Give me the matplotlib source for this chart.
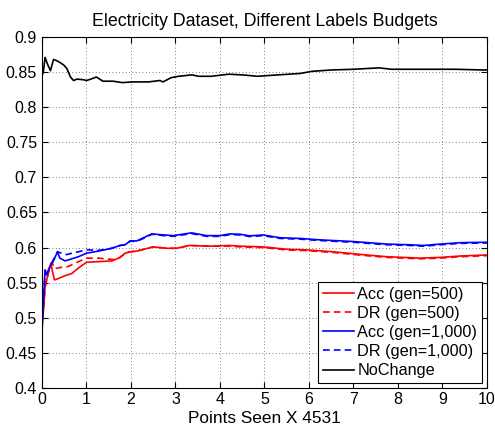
import matplotlib
matplotlib.use("Agg")
import matplotlib.pyplot as plt
import numpy as np

plt.rcParams['font.family'] = ['Liberation Sans', 'DejaVu Sans']

# NoChange
nc_x = [0.0, 0.03, 0.07, 0.12, 0.19, 0.26, 0.34, 0.42, 0.49, 0.56, 0.64, 0.71, 0.79, 0.94, 1.0, 1.1, 1.22, 1.37, 1.6, 1.81, 2.04, 2.4, 2.65, 2.72, 2.9, 3.07, 3.37, 3.52, 3.8, 4.2, 4.5, 4.85, 5.3, 5.8, 6.06, 6.5, 7.0, 7.57, 7.86, 8.3, 8.7, 9.3, 9.9, 10.0]
nc_y = [0.845, 0.850, 0.871, 0.862, 0.852, 0.868, 0.866, 0.863, 0.860, 0.855, 0.843, 0.838, 0.840, 0.839, 0.838, 0.840, 0.843, 0.837, 0.837, 0.835, 0.836, 0.836, 0.838, 0.836, 0.842, 0.844, 0.846, 0.844, 0.844, 0.847, 0.846, 0.844, 0.846, 0.848, 0.851, 0.853, 0.854, 0.856, 0.854, 0.854, 0.854, 0.854, 0.853, 0.853]

# Acc (gen=500)
acc500_x = [0.0, 0.07, 0.14, 0.2, 0.23, 0.28, 0.37, 0.52, 0.67, 0.82, 1.0, 1.27, 1.57, 1.75, 1.87, 1.98, 2.13, 2.5, 2.8, 3.02, 3.32, 3.77, 4.22, 4.45, 4.97, 5.5, 5.95, 6.55, 7.2, 7.75, 8.5, 8.95, 9.4, 10.0]
acc500_y = [0.482, 0.544, 0.563, 0.578, 0.568, 0.554, 0.556, 0.560, 0.563, 0.571, 0.579, 0.580, 0.581, 0.5857, 0.592, 0.594, 0.595, 0.601, 0.599, 0.599, 0.603, 0.602, 0.603, 0.602, 0.601, 0.5976, 0.5967, 0.594, 0.590, 0.587, 0.585, 0.586, 0.588, 0.5895]

# DR (gen=500)
dr500_x = [0.0, 0.07, 0.14, 0.2, 0.23, 0.29, 0.44, 0.59, 0.82, 1.0, 1.27, 1.6, 1.75, 1.87, 1.98, 2.13, 2.5, 2.8, 3.02, 3.32, 3.77, 4.22, 4.45, 4.97, 5.5, 5.95, 6.55, 7.2, 7.75, 8.5, 8.95, 9.4, 10.0]
dr500_y = [0.482, 0.544, 0.563, 0.576, 0.578, 0.570, 0.572, 0.573, 0.580, 0.585, 0.585, 0.583, 0.586, 0.592, 0.594, 0.595, 0.601, 0.599, 0.599, 0.603, 0.602, 0.602, 0.601, 0.600, 0.5966, 0.5957, 0.593, 0.589, 0.586, 0.584, 0.585, 0.587, 0.5885]

# Acc (gen=1,000)
acc1k_x = [0.0, 0.07, 0.1, 0.18, 0.25, 0.35, 0.4, 0.52, 0.67, 0.82, 1.0, 1.27, 1.57, 1.75, 1.87, 1.98, 2.13, 2.28, 2.47, 2.73, 2.95, 3.36, 3.7, 4.0, 4.22, 4.45, 4.67, 4.97, 5.35, 5.8, 6.25, 7.0, 7.75, 8.27, 8.57, 8.95, 9.4, 10.0]
acc1k_y = [0.485, 0.568, 0.561, 0.573, 0.580, 0.594, 0.585, 0.581, 0.584, 0.587, 0.592, 0.595, 0.599, 0.603, 0.604, 0.6095, 0.6095, 0.614, 0.6195, 0.618, 0.617, 0.621, 0.617, 0.617, 0.6195, 0.619, 0.6167, 0.618, 0.614, 0.613, 0.611, 0.6086, 0.605, 0.604, 0.603, 0.605, 0.607, 0.6076]

# DR (gen=1,000)
dr1k_x = [0.0, 0.07, 0.1, 0.18, 0.25, 0.35, 0.44, 0.55, 0.67, 0.82, 1.0, 1.27, 1.57, 1.75, 1.87, 1.98, 2.13, 2.28, 2.47, 2.73, 2.95, 3.36, 3.7, 4.0, 4.22, 4.45, 4.67, 4.97, 5.35, 5.8, 6.25, 7.0, 7.75, 8.27, 8.57, 8.95, 9.4, 10.0]
dr1k_y = [0.485, 0.568, 0.561, 0.573, 0.582, 0.594, 0.592, 0.590, 0.592, 0.594, 0.597, 0.596, 0.599, 0.603, 0.604, 0.609, 0.609, 0.613, 0.619, 0.617, 0.616, 0.620, 0.616, 0.616, 0.6185, 0.618, 0.6157, 0.617, 0.613, 0.612, 0.610, 0.6076, 0.604, 0.603, 0.602, 0.604, 0.606, 0.6066]

xticks = list(range(0, 11))
yticks = [0.4, 0.45, 0.5, 0.55, 0.6, 0.65, 0.7, 0.75, 0.8, 0.85, 0.9]
ytick_labels = ['0.4', '0.45', '0.5', '0.55', '0.6', '0.65', '0.7', '0.75', '0.8', '0.85', '0.9']

fig = plt.figure(figsize=(4.95, 4.29), dpi=100)
ax = fig.add_axes([0.0848, 0.0956, 0.8990, 0.8182])

lw = 1.2
ax.plot(acc500_x, acc500_y, color='#ff0000', lw=lw, label='Acc (gen=500)')
ax.plot(dr500_x, dr500_y, color='#ff0000', lw=lw, ls=(0, (4, 2.5)), label='DR (gen=500)')
ax.plot(acc1k_x, acc1k_y, color='#0000ff', lw=lw, label='Acc (gen=1,000)')
ax.plot(dr1k_x, dr1k_y, color='#0000ff', lw=lw, ls=(0, (4, 2.5)), label='DR (gen=1,000)')
ax.plot(nc_x, nc_y, color='black', lw=lw, label='NoChange')

ax.set_xlim(0, 10)
ax.set_ylim(0.4, 0.9)
ax.set_xticks(xticks)
ax.set_yticks(yticks)
ax.set_yticklabels(ytick_labels)
ax.tick_params(direction='in', top=True, right=True, labelsize=11.5, length=4, width=0.8)
ax.tick_params(axis='x', pad=3)
ax.grid(True, ls=(0, (1, 3)), color='#555555', lw=0.6)
for s in ax.spines.values():
    s.set_linewidth(0.8)

ax.set_title('Electricity Dataset, Different Labels Budgets', fontsize=12.8, pad=8)
ax.set_xlabel('Points Seen X 4531', fontsize=12.4, labelpad=2.5)

leg = ax.legend(loc='lower right', fontsize=11.7, frameon=True, fancybox=False,
                edgecolor='black', framealpha=1, borderpad=0.3, labelspacing=0.25,
                handlelength=1.9, handletextpad=0.2, borderaxespad=0.3)
leg.get_frame().set_linewidth(0.8)

fig.savefig('out.png', dpi=100)
